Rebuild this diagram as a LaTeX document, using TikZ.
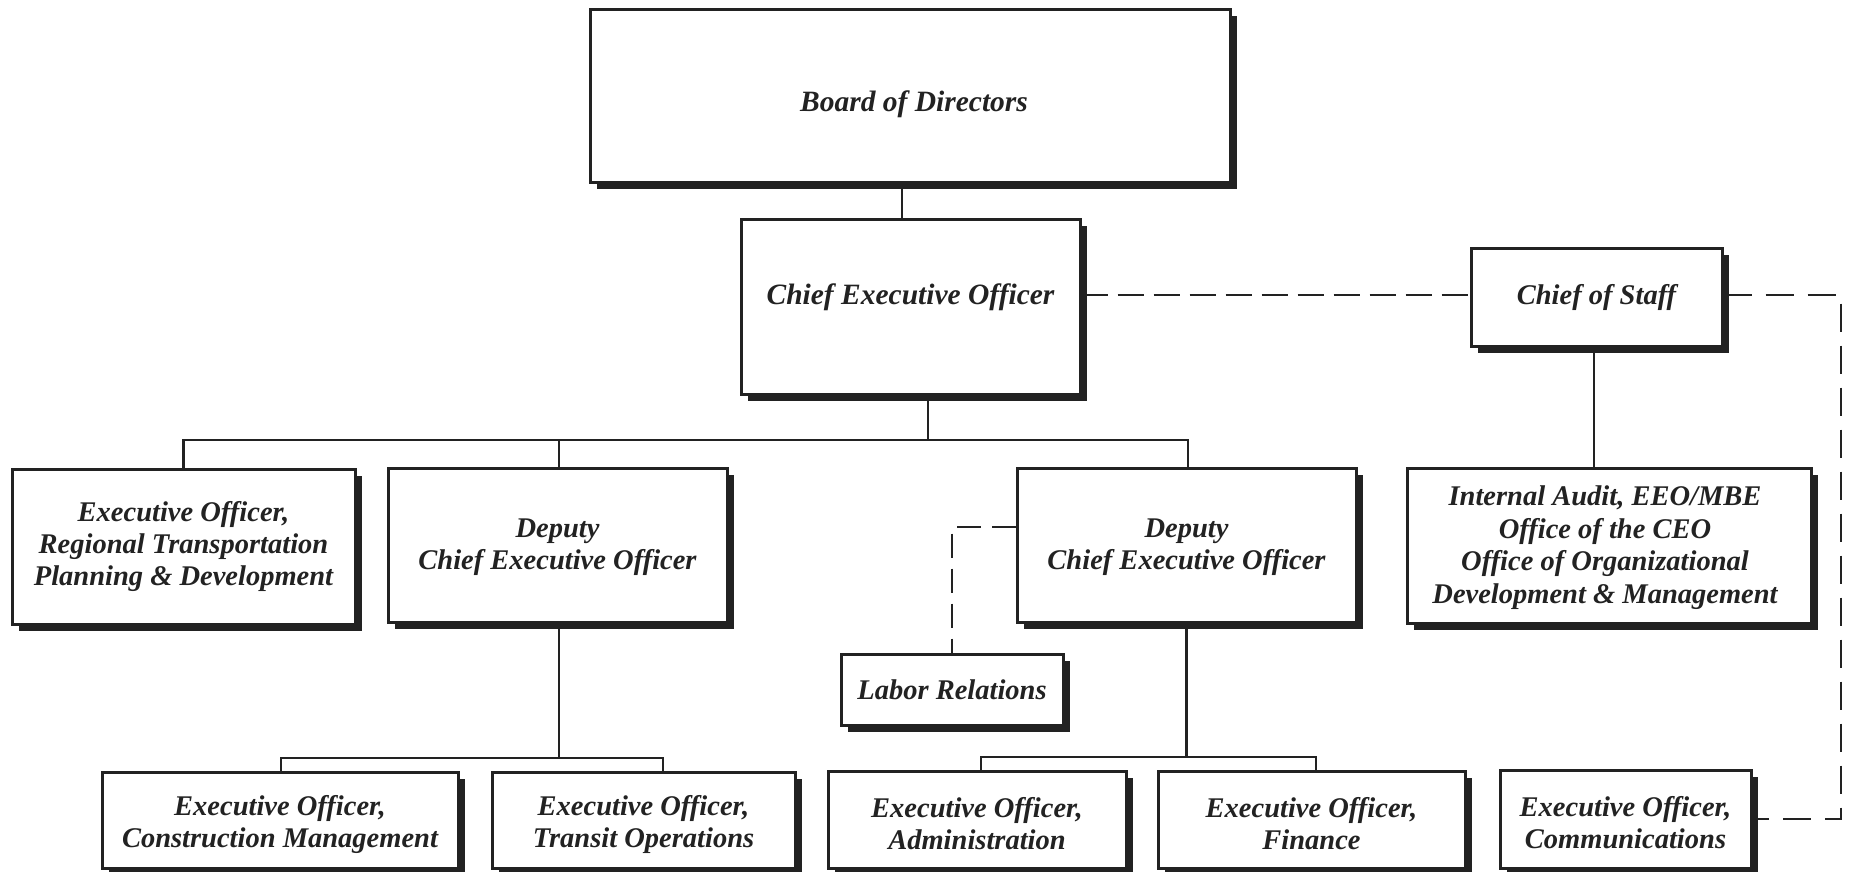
\documentclass[tikz,border=0pt]{standalone}
\usepackage{fontspec}
\setmainfont{Liberation Serif}
\usetikzlibrary{shadows,calc}
\definecolor{ink}{RGB}{34,34,34}
\tikzset{
  box/.style={draw=ink, line width=3pt, fill=white, rectangle, inner sep=0pt,
    drop shadow={shadow xshift=7pt, shadow yshift=-7pt, opacity=1, fill=ink}},
  txt/.style={font=\fontsize{28.5}{32}\selectfont\bfseries\itshape, text=ink, align=center, inner sep=0pt},
  bigtxt/.style={txt, font=\fontsize{29.5}{33}\selectfont\bfseries\itshape},
  conn/.style={draw=ink, line width=2.8pt},
  dashline/.style={draw=ink, line width=2.8pt, dash pattern=on 26pt off 10pt},
}
\begin{document}
\begin{tikzpicture}[x=1pt,y=-1pt]
\path[use as bounding box] (0,0) rectangle (1849,871);
\clip (0,0) rectangle (1849,871);
\fill[white] (0,0) rectangle (1849,871);

% boxes
\node[box, minimum width=640pt, minimum height=173pt,
  label={[bigtxt,yshift=-9pt,xshift=4pt]center:Board of Directors}] (board) at (910,95.5) {};
\node[box, minimum width=339pt, minimum height=175pt,
  label={[bigtxt,yshift=9pt]center:Chief Executive Officer}] (ceo) at (910.5,306.5) {};
\node[box, minimum width=251pt, minimum height=98pt,
  label={[txt]center:Chief of Staff}] (cos) at (1596.5,297) {};
\node[box, minimum width=343pt, minimum height=155pt,
  label={[txt]center:{Executive Officer,\\Regional Transportation\\Planning \& Development}}] (rt) at (183.5,546.5) {};
\node[box, minimum width=339pt, minimum height=154pt,
  label={[txt,yshift=-2pt]center:{Deputy\\Chief Executive Officer}}] (dceo1) at (557.5,545) {};
\node[box, minimum width=339pt, minimum height=154pt,
  label={[txt,yshift=-2pt]center:{Deputy\\Chief Executive Officer}}] (dceo2) at (1186.5,545) {};
\node[box, minimum width=404pt, minimum height=155pt,
  label={[txt,font=\fontsize{28.5}{32.5}\selectfont\bfseries\itshape,xshift=-4pt,yshift=-2pt]center:{Internal Audit, EEO/MBE\\Office of the CEO\\Office of Organizational\\Development \& Management}}] (ia) at (1609,545.5) {};
\node[box, minimum width=222pt, minimum height=71pt,
  label={[txt]center:Labor Relations}] (lr) at (952,689.5) {};
\node[box, minimum width=356pt, minimum height=96pt,
  label={[txt,yshift=-4pt]center:{Executive Officer,\\Construction Management}}] (cm) at (280,820) {};
\node[box, minimum width=303pt, minimum height=96pt,
  label={[txt,yshift=-4pt]center:{Executive Officer,\\Transit Operations}}] (to) at (643.5,820) {};
\node[box, minimum width=298pt, minimum height=97pt,
  label={[txt,yshift=-4pt]center:{Executive Officer,\\Administration}}] (adm) at (977,819.5) {};
\node[box, minimum width=307pt, minimum height=97pt,
  label={[txt,yshift=-4pt]center:{Executive Officer,\\Finance}}] (fin) at (1311.5,819.5) {};
\node[box, minimum width=251pt, minimum height=98pt,
  label={[txt,yshift=-4pt]center:{Executive Officer,\\Communications}}] (com) at (1625.5,819) {};

% helper coordinates
\coordinate (bus) at (0,440);
\coordinate (sbA) at (0,758);
\coordinate (sbB) at (0,757);
\coordinate (rc) at (1841,0);

% solid connectors
\draw[conn] ([xshift=-8pt]board.south) -- ([xshift=-8pt]board.south |- ceo.north);
\draw[conn] ([xshift=17.5pt]ceo.south) -- ([xshift=17.5pt]ceo.south |- bus);
\draw[conn] (rt.north) -- (rt.north |- bus) -- ([xshift=1.5pt]dceo2.north |- bus) -- ([xshift=1.5pt]dceo2.north);
\draw[conn] ([xshift=1.5pt]dceo1.north) -- ([xshift=1.5pt]dceo1.north |- bus);

\draw[conn] ([xshift=1.5pt]dceo1.south) -- ([xshift=1.5pt]dceo1.south |- sbA);
\draw[conn] ([xshift=1pt]cm.north) -- ([xshift=1pt]cm.north |- sbA) -- ([xshift=19.5pt]to.north |- sbA) -- ([xshift=19.5pt]to.north);

\draw[conn] (dceo2.south) -- (dceo2.south |- sbB);
\draw[conn] ([xshift=4pt]adm.north) -- ([xshift=4pt]adm.north |- sbB) -- ([xshift=4.5pt]fin.north |- sbB) -- ([xshift=4.5pt]fin.north);

\draw[conn] ([xshift=-2.5pt]cos.south) -- ([xshift=-2.5pt]cos.south |- ia.north);

% dashed connectors
\draw[dashline] ([yshift=2pt]ceo.east |- cos.west) -- ([yshift=2pt]cos.west);
\draw[dashline, dash pattern=on 28pt off 14pt] ([yshift=2pt]cos.east) -| (rc |- com.east) -- (com.east);
\draw[dashline, dash pattern=on 24pt off 11pt] ([yshift=18pt]dceo2.west) -| (lr.north);
\end{tikzpicture}
\end{document}
